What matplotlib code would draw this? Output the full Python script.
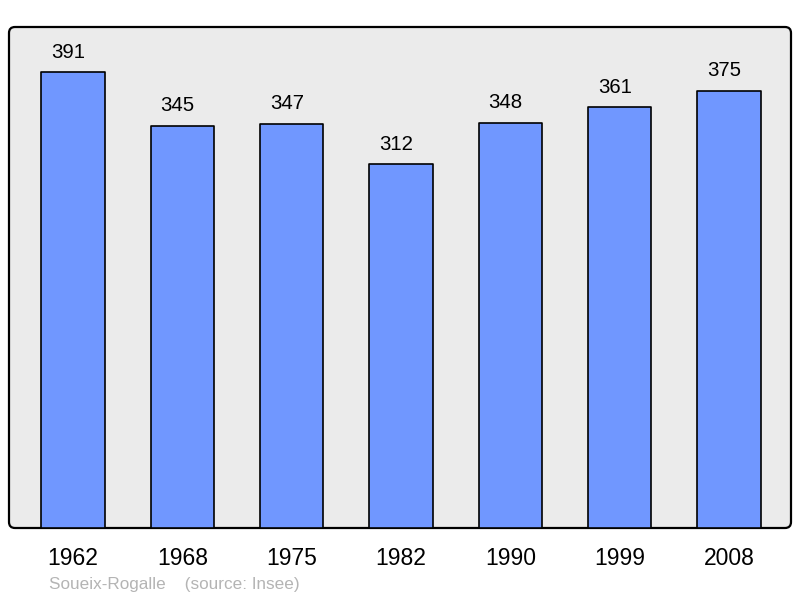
import matplotlib.pyplot as plt
import matplotlib.patches as mpatches
from matplotlib.transforms import IdentityTransform

years = ["1962", "1968", "1975", "1982", "1990", "1999", "2008"]
population = [391, 345, 347, 312, 348, 361, 375]

plt.rcParams['font.family'] = ['Liberation Sans', 'DejaVu Sans']

fig = plt.figure(figsize=(8, 5.98), dpi=100)
# axes area in pixels: x 9..791, y 27..528 (from top)
ax = fig.add_axes([9/800, (598-528)/598, 782/800, 501/598])
ax.patch.set_visible(False)
for s in ax.spines.values():
    s.set_visible(False)

# rounded grey panel behind the bars
panel = mpatches.FancyBboxPatch((9, 598-528), 782, 501,
                                boxstyle="round,pad=0,rounding_size=6",
                                transform=IdentityTransform(),
                                facecolor="#ebebeb", edgecolor="black",
                                linewidth=1.6, zorder=-1)
fig.patches.append(panel)

x = list(range(len(years)))
ax.bar(x, population, width=0.577, color="#7097ff", edgecolor="black",
       linewidth=1.2, zorder=2, joinstyle="round")
for xi, v in zip(x, population):
    ax.annotate(str(v), (xi, v), xytext=(-3.5, 10.5), textcoords="offset points",
                ha="center", va="baseline", fontsize=14.7)

ax.set_xlim(-0.585, 6.567)
ax.set_ylim(0, 430)
ax.set_yticks([])
ax.set_xticks(x)
ax.set_xticklabels(years, fontsize=16.5)
ax.tick_params(axis="x", length=0, pad=14)

fig.text(49/800, 1 - 585/598, "Soueix-Rogalle    (source: Insee)",
         color="#b4b4b4", fontsize=12.3, ha="left", va="center")

fig.savefig("out.png", dpi=100)
